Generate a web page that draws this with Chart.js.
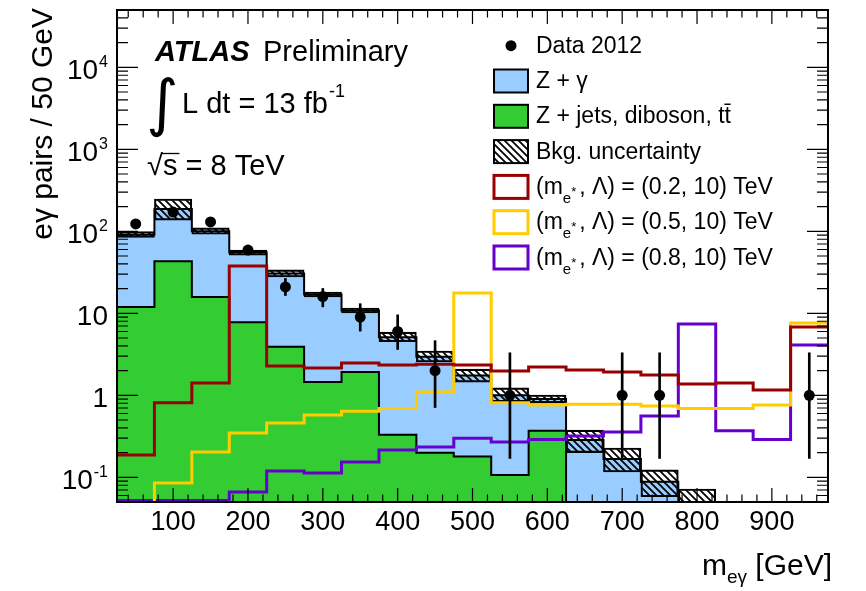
<!DOCTYPE html>
<html>
<head>
<meta charset="utf-8">
<title>e gamma invariant mass</title>
<script src="https://cdn.jsdelivr.net/npm/chart.js@4.4.1/dist/chart.umd.min.js"></script>
<style>
  html, body { margin: 0; padding: 0; background: #fff; }
  #wrap { width: 866px; height: 591px; }
</style>
</head>
<body>
<div id="wrap"><canvas id="massChart" width="866" height="591"></canvas></div>
<script>
// 50 GeV bins, lower edges
const binLow = [25, 75, 125, 175, 225, 275, 325, 375, 425, 475, 525, 575, 625, 675, 725, 775, 825, 875, 925];
const binEnd = 975;

// Data 2012 (counts, with error bar ends)
const dataCounts = [123, 172, 130, 59, 21, 16, 9, 6, 2, 0, 1, 0, 0, 1, 1, 0, 0, 0, 1];
const dataErrLo  = [112, 159, 119, 51.8, 16.5, 12.0, 6.06, 3.62, 0.71, 0, 0.17, 0, 0, 0.17, 0.17, 0, 0, 0, 0.17];
const dataErrHi  = [135, 186, 142, 67.2, 26.6, 20.1, 13.1, 9.58, 4.64, 0, 3.30, 0, 0, 3.30, 3.30, 0, 0, 0, 3.30];

// backgrounds: total (Z+gamma on top of Z+jets) and Z+jets, diboson, ttbar
const bkgTotal = [91, 187, 100, 55, 30.5, 17, 10.8, 5.1, 2.95, 1.75, 1.0, 0.9, 0.285, 0.167, 0.088, 0.03, 0, 0, 0];
const zJets    = [11.9, 43, 15.8, 7.8, 3.9, 1.45, 1.92, 0.33, 0.20, 0.18, 0.107, 0.37, 0, 0, 0, 0, 0, 0, 0];
const bkgUncLo = [84, 137, 92, 51, 27.7, 15.8, 10.1, 4.5, 2.55, 1.45, 0.83, 0.81, 0.20, 0.116, 0.058, 0.01, 0, 0, 0];
const bkgUncHi = [99, 248, 110, 59, 33.8, 18.2, 11.6, 5.9, 3.47, 2.09, 1.23, 1.01, 0.377, 0.228, 0.123, 0.072, 0, 0, 0];

// excited electron signals (m_e*, Lambda)
const sig200 = [0.187, 0.81, 1.41, 37.8, 2.28, 2.15, 2.48, 2.34, 2.4, 2.34, 1.98, 2.21, 2.04, 1.92, 1.77, 1.37, 1.41, 1.16, 6.8];
const sig500 = [0, 0.085, 0.204, 0.347, 0.46, 0.575, 0.64, 0.69, 1.10, 17.7, 0.81, 0.76, 0.78, 0.78, 0.74, 0.69, 0.69, 0.76, 7.6];
const sig800 = [0.052, 0.052, 0.052, 0.066, 0.119, 0.113, 0.154, 0.215, 0.234, 0.30, 0.27, 0.29, 0.32, 0.357, 0.56, 7.4, 0.37, 0.29, 4.1];

const xTicks = [100, 200, 300, 400, 500, 600, 700, 800, 900];
const yTicks = [0.1, 1, 10, 100, 1000, 10000];
const yTickBase = ['10', '1', '10', '10', '10', '10'];
const yTickExp = ['-1', '', '', '2', '3', '4'];

const blue = '#99ccff', green = '#33cc33';
const red = '#990000', yellow = '#ffcc00', violet = '#6600cc';
const font = '"Liberation Sans", Arial, Helvetica, sans-serif';

// step histogram points: value holds from lower edge to next edge
function steps(values) {
  const pts = binLow.map((x, i) => ({ x: x, y: values[i] > 0 ? values[i] : 1e-3 }));
  pts.push({ x: binEnd, y: pts[pts.length - 1].y });
  return pts;
}

function hatchPattern() {
  const c = document.createElement('canvas');
  c.width = 7; c.height = 7;
  const g = c.getContext('2d');
  g.strokeStyle = '#000';
  g.lineWidth = 1.8;
  g.beginPath();
  g.moveTo(-1, -1); g.lineTo(8, 8);
  g.moveTo(-1, 6); g.lineTo(1, 8);
  g.moveTo(6, -1); g.lineTo(8, 1);
  g.stroke();
  return g.createPattern(c, 'repeat');
}
const hatch = hatchPattern();

const centers = binLow.map(x => x + 25);
const dataPoints = centers.map((x, i) => ({ x: x, y: dataCounts[i] > 0 ? dataCounts[i] : null }));
const dataBars = centers.map((x, i) => ({ x: x, y: dataCounts[i] > 0 ? [dataErrLo[i], dataErrHi[i]] : null }));
const uncBars = centers.map((x, i) => ({ x: x, y: bkgUncHi[i] > 0 ? [Math.max(bkgUncLo[i], 0.01), bkgUncHi[i]] : null }));

function text(ctx, str, x, y, size, align, style) {
  ctx.font = (style || '') + ' ' + size + 'px ' + font;
  ctx.textAlign = align || 'left';
  ctx.fillText(str, x, y);
  return ctx.measureText(str).width;
}

const atlasDecor = {
  id: 'atlasDecor',
  beforeDraw(chart) {
    const ctx = chart.ctx;
    ctx.save();
    ctx.fillStyle = '#fff';
    ctx.fillRect(0, 0, chart.width, chart.height);
    ctx.restore();
  },
  afterDraw(chart) {
    const { ctx, chartArea: a, scales: { x, y } } = chart;
    ctx.save();
    ctx.strokeStyle = '#000';
    ctx.fillStyle = '#000';
    ctx.textBaseline = 'alphabetic';

    // inward ticks on all four sides
    ctx.lineWidth = 1.2;
    ctx.beginPath();
    for (let v = 40; v < binEnd; v += 20) {
      const px = x.getPixelForValue(v);
      const len = v % 100 === 0 ? 14 : 7.5;
      ctx.moveTo(px, a.bottom); ctx.lineTo(px, a.bottom - len);
      ctx.moveTo(px, a.top); ctx.lineTo(px, a.top + len);
    }
    for (let e = -2; e <= 4; e++) {
      for (let m = 1; m < 10; m++) {
        const v = m * Math.pow(10, e);
        if (v < y.min || v > y.max) continue;
        const py = y.getPixelForValue(v);
        const len = m === 1 ? 21 : 11;
        ctx.moveTo(a.left, py); ctx.lineTo(a.left + len, py);
        ctx.moveTo(a.right, py); ctx.lineTo(a.right - len, py);
      }
    }
    ctx.stroke();

    ctx.lineWidth = 2;
    ctx.strokeRect(a.left, a.top, a.right - a.left, a.bottom - a.top);

    // y tick labels
    yTicks.forEach((v, i) => {
      const base = y.getPixelForValue(v) + 12;
      if (yTickExp[i]) {
        const w = text(ctx, yTickExp[i], 108, base - 12, 16, 'right');
        text(ctx, yTickBase[i], 107 - w, base, 28, 'right');
      } else {
        text(ctx, yTickBase[i], 108, base, 28, 'right');
      }
    });
    // x tick labels
    xTicks.forEach(v => text(ctx, String(v), x.getPixelForValue(v), 530, 27, 'center'));

    // x title, right aligned to 832
    ctx.font = '30px ' + font;
    const wm = ctx.measureText('m').width, wg = ctx.measureText(' [GeV]').width;
    ctx.font = '19px ' + font;
    const ws = ctx.measureText('eγ').width;
    let tx = 832 - wm - ws - wg;
    tx += text(ctx, 'm', tx, 575, 30);
    tx += text(ctx, 'eγ', tx, 583, 19);
    text(ctx, ' [GeV]', tx, 575, 30);

    // y title
    ctx.save();
    ctx.translate(52, 8);
    ctx.rotate(-Math.PI / 2);
    text(ctx, 'eγ pairs / 50 GeV', 0, 0, 30, 'right');
    ctx.restore();

    // ATLAS labels
    text(ctx, 'ATLAS', 155, 61, 29, 'left', 'italic bold');
    text(ctx, 'Preliminary', 263, 61, 29);
    ctx.font = '62px "DejaVu Sans"';
    ctx.textAlign = 'left';
    ctx.fillText('∫', 146, 124);
    const wl = text(ctx, 'L dt = 13 fb', 182, 113, 29);
    text(ctx, '-1', 182 + wl + 1, 97, 18);
    const wr = text(ctx, '√', 147, 175, 29);
    const wsv = text(ctx, 's', 147 + wr, 175, 29);
    text(ctx, ' = 8 TeV', 147 + wr + wsv, 175, 29);
    ctx.lineWidth = 1.3;
    ctx.beginPath();
    ctx.moveTo(147 + wr - 1, 153.5); ctx.lineTo(147 + wr + wsv + 2, 153.5);
    ctx.stroke();

    // legend
    const rows = [
      { kind: 'dot', label: 'Data 2012' },
      { kind: 'fill', color: blue, label: 'Z + γ' },
      { kind: 'fill', color: green, label: 'Z + jets, diboson, tt̄' },
      { kind: 'hatch', label: 'Bkg. uncertainty' },
      { kind: 'line', color: red, mass: '0.2' },
      { kind: 'line', color: yellow, mass: '0.5' },
      { kind: 'line', color: violet, mass: '0.8' }
    ];
    rows.forEach((r, i) => {
      const base = 52.7 + i * 35.3;
      const cy = base - 7;
      const bx = 494, bw = 34, bh = 23;
      if (r.kind === 'dot') {
        ctx.beginPath();
        ctx.arc(511, cy, 5.5, 0, Math.PI * 2);
        ctx.fill();
      } else if (r.kind === 'fill' || r.kind === 'hatch') {
        ctx.fillStyle = r.kind === 'fill' ? r.color : hatch;
        ctx.fillRect(bx, cy - bh / 2, bw, bh);
        ctx.fillStyle = '#000';
        ctx.lineWidth = 2;
        ctx.strokeStyle = '#000';
        ctx.strokeRect(bx, cy - bh / 2, bw, bh);
      } else {
        ctx.lineWidth = 3;
        ctx.strokeStyle = r.color;
        ctx.strokeRect(bx, cy - bh / 2, bw, bh);
      }
      ctx.fillStyle = '#000';
      if (r.kind !== 'line') {
        text(ctx, r.label, 536, base, 23);
      } else {
        let lx = 536;
        lx += text(ctx, '(m', lx, base, 23);
        const we = text(ctx, 'e', lx, base + 9, 15);
        text(ctx, '*', lx + we, base + 2, 13);
        lx += we + 8;
        text(ctx, ', Λ) = (' + r.mass + ', 10) TeV', lx, base, 23);
      }
    });
    ctx.restore();
  }
};

const massChart = new Chart(document.getElementById('massChart'), {
  type: 'line',
  data: {
    datasets: [
      {
        label: 'Data 2012', data: dataPoints, showLine: false,
        pointRadius: 5.5, pointBackgroundColor: '#000', pointBorderWidth: 0, order: 0
      },
      {
        type: 'bar', label: 'data errors', data: dataBars, backgroundColor: '#000',
        borderWidth: 0, barThickness: 2, grouped: false, order: 1
      },
      {
        label: '(0.2, 10) TeV', data: steps(sig200), stepped: 'before', borderColor: red,
        borderWidth: 3, pointRadius: 0, fill: false, order: 2
      },
      {
        label: '(0.5, 10) TeV', data: steps(sig500), stepped: 'before', borderColor: yellow,
        borderWidth: 3, pointRadius: 0, fill: false, order: 3
      },
      {
        label: '(0.8, 10) TeV', data: steps(sig800), stepped: 'before', borderColor: violet,
        borderWidth: 3, pointRadius: 0, fill: false, order: 4
      },
      {
        type: 'bar', label: 'Bkg. uncertainty', data: uncBars, backgroundColor: hatch,
        borderColor: '#000', borderWidth: 1.5, borderSkipped: false,
        barPercentage: 1, categoryPercentage: 1, grouped: false, order: 5
      },
      {
        label: 'Z + jets, diboson, tt', data: steps(zJets), stepped: 'before', borderColor: '#000',
        borderWidth: 2, backgroundColor: green, pointRadius: 0, fill: 'start', order: 6
      },
      {
        label: 'Z + gamma', data: steps(bkgTotal), stepped: 'before', borderColor: '#000',
        borderWidth: 2, backgroundColor: blue, pointRadius: 0, fill: 'start', order: 7
      }
    ]
  },
  options: {
    responsive: false,
    animation: false,
    devicePixelRatio: 1,
    layout: { padding: { left: 117, right: 38, top: 10, bottom: 89 } },
    plugins: { legend: { display: false }, tooltip: { enabled: false } },
    scales: {
      x: { type: 'linear', min: 25, max: 975, offset: false, display: false },
      y: { type: 'logarithmic', min: 0.05, max: 50000, display: false }
    }
  },
  plugins: [atlasDecor]
});
</script>
</body>
</html>
